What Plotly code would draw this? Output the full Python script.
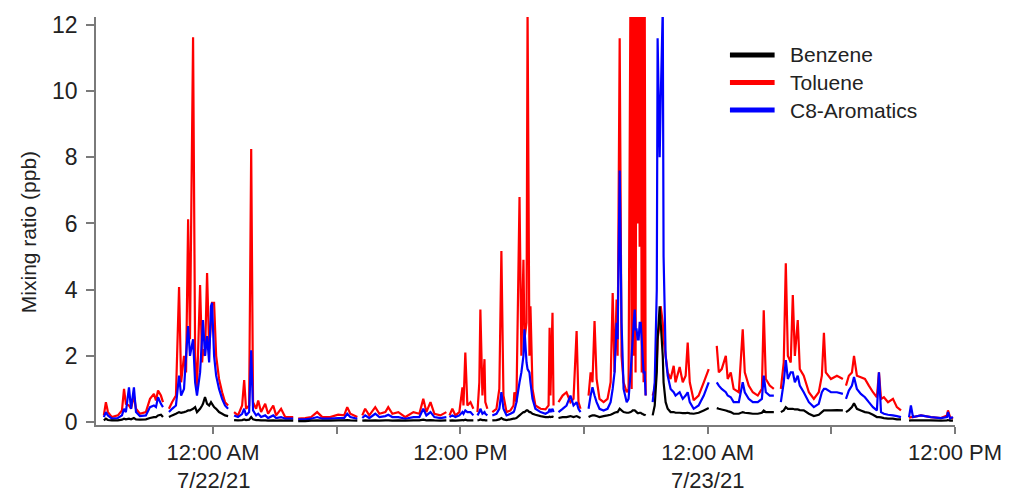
import pandas as pd
import plotly.graph_objects as go

# Sample times in hours after midnight 7/22/21 (shared by all three species).
# Entries whose values are None mark gaps between measurement periods.
hours = [
    -5.30, -5.20, -5.10, -4.91, -4.62, -4.42, -4.32, -4.23, -4.08, -3.98, -3.84, -3.74, -3.55, -3.26, -3.06, -2.87, -2.77, -2.67, -2.53, -2.43, -2.28,
    -2.14, -1.99, -1.80, -1.65, -1.55, -1.41, -1.31, -1.21, -1.12, -0.97, -0.87, -0.78, -0.63, -0.53, -0.49, -0.39, -0.29, -0.19, -0.10, -0.05, 0.05, 0.15, 0.29, 0.44, 0.58, 0.73, 0.87,
    1.02, 1.21, 1.41, 1.51, 1.60, 1.75, 1.85, 1.94, 2.09, 2.19, 2.33, 2.53, 2.67, 2.92, 3.06, 3.30, 3.50, 3.89, 4.01,
    4.13, 4.47, 4.76, 5.05, 5.30, 5.68, 6.07, 6.36, 6.51, 6.66, 7.00, 7.12,
    7.24, 7.38, 7.58, 7.87, 8.07, 8.36, 8.50, 8.70, 8.99, 9.33, 9.72, 10.01, 10.20, 10.35, 10.55, 10.74, 11.03, 11.32, 11.39,
    11.47, 11.61, 11.76, 11.95, 12.10, 12.15, 12.24, 12.34, 12.49, 12.63, 12.73,
    12.83, 12.92, 12.97, 13.07, 13.17, 13.21, 13.31, 13.43,
    13.55, 13.75, 13.89, 13.99, 14.09, 14.24, 14.43, 14.58, 14.62, 14.72, 14.87, 14.96, 15.06, 15.11, 15.21, 15.26, 15.35, 15.40, 15.50, 15.64, 15.89, 16.13, 16.28, 16.33, 16.37, 16.47, 16.52, 16.64,
    16.76, 16.96, 17.15, 17.34, 17.49, 17.64, 17.73, 17.83, 18.02,
    18.22, 18.32, 18.41, 18.51, 18.61, 18.75, 18.95, 19.14, 19.29, 19.39, 19.48, 19.58, 19.63, 19.73, 19.82, 19.92, 20.07, 20.16, 20.26, 20.31, 20.36, 20.41, 20.46, 20.50, 20.55, 20.60, 20.65, 20.70, 20.75, 20.80, 20.84, 20.89, 20.94, 20.99, 21.16,
    21.33, 21.43, 21.53, 21.57, 21.67, 21.72, 21.82, 21.86, 21.96, 22.06, 22.20, 22.35, 22.44, 22.64, 22.79, 22.93, 23.03, 23.13, 23.32, 23.56, 23.81, 24.05, 24.24,
    24.44, 24.54, 24.68, 24.88, 24.97, 25.12, 25.26, 25.51, 25.70, 25.80, 25.99, 26.19, 26.43, 26.63, 26.72, 26.82, 27.01, 27.21, 27.38,
    27.55, 27.69, 27.79, 27.89, 28.03, 28.13, 28.23, 28.37, 28.47, 28.66, 28.91, 29.15, 29.39, 29.54, 29.64, 29.73, 29.98, 30.27, 30.56, 30.63,
    30.71, 30.85, 31.00, 31.10, 31.24, 31.43, 31.63, 31.82, 32.02, 32.21, 32.31, 32.41, 32.55, 32.75, 32.99, 33.18, 33.38, 33.57,
    33.77, 33.86, 33.96, 34.35, 34.83, 35.32, 35.61, 35.66, 35.76, 35.90,
]

toluene = [
    0.20, 0.60, 0.30, 0.15, 0.20, 0.35, 1.00, 0.55, 0.50, 0.40, 0.80, 0.40, 0.25, 0.30, 0.70, 0.85, 0.65, 0.95, 0.80, 0.60, None,
    0.40, 0.60, 0.80, 4.08, 1.20, 2.00, 1.50, 6.13, 2.50, 11.63, 2.00, 1.00, 4.14, 1.80, 2.20, 2.00, 4.50, 2.20, 3.00, 3.60, 3.60, 2.00, 1.30, 0.90, 0.60, 0.50, None,
    0.30, 0.20, 0.50, 1.27, 0.40, 0.50, 8.25, 0.60, 0.40, 0.65, 0.30, 0.55, 0.25, 0.50, 0.20, 0.40, 0.15, 0.15, None,
    0.10, 0.12, 0.15, 0.30, 0.15, 0.15, 0.22, 0.20, 0.45, 0.25, 0.15, None,
    0.20, 0.40, 0.20, 0.45, 0.25, 0.30, 0.45, 0.25, 0.30, 0.15, 0.30, 0.25, 0.70, 0.30, 0.60, 0.25, 0.20, 0.30, None,
    0.20, 0.40, 0.20, 0.30, 1.05, 0.50, 2.10, 0.50, 0.60, 0.40, None,
    0.30, 1.20, 3.40, 0.80, 1.90, 0.60, 0.40, None,
    0.30, 0.40, 1.00, 5.17, 0.80, 0.30, 0.35, 0.50, 0.90, 0.60, 6.80, 2.00, 4.90, 2.50, 3.00, 12.50, 2.00, 3.50, 1.00, 0.50, 0.40, 0.38, 0.50, 2.85, 0.80, 3.30, 0.50, None,
    0.60, 0.80, 0.90, 0.60, 0.70, 2.75, 0.60, 0.40, None,
    0.80, 1.50, 1.20, 3.05, 1.30, 0.70, 0.60, 0.70, 1.20, 3.90, 1.50, 3.70, 2.00, 11.60, 2.00, 1.20, 0.90, 1.00, 14.0, 1.00, 14.0, 2.00, 14.0, 1.50, 13.0, 6.00, 14.0, 5.30, 14.0, 1.50, 14.0, 1.20, 14.0, 0.80, None,
    0.80, 1.00, 1.80, 2.50, 3.00, 3.50, 3.00, 2.50, 2.00, 1.50, 1.30, 1.70, 1.20, 1.66, 1.20, 1.40, 2.40, 1.20, 0.66, 0.80, 1.20, 1.60, None,
    2.30, 1.50, 1.60, 2.00, 1.30, 1.50, 1.00, 0.90, 2.80, 1.50, 1.10, 0.90, 0.80, 1.00, 3.38, 1.30, 1.10, 1.00, None,
    1.00, 1.80, 4.80, 2.00, 1.80, 3.84, 2.00, 3.08, 1.60, 1.40, 0.90, 0.70, 0.90, 1.40, 2.70, 1.50, 1.30, 1.40, 1.30, None,
    1.10, 1.40, 1.50, 2.00, 1.40, 1.35, 1.30, 1.10, 0.90, 0.75, 1.50, 0.70, 0.75, 0.60, 0.70, 0.45, 0.35, None,
    0.12, 0.15, 0.15, 0.20, 0.15, 0.12, 0.20, 0.35, 0.15, 0.10,
]

c8_aromatics = [
    0.15, 0.30, 0.20, 0.10, 0.12, 0.20, 0.40, 0.30, 1.05, 0.40, 1.05, 0.30, 0.18, 0.20, 0.45, 0.50, 0.45, 0.75, 0.55, 0.45, None,
    0.30, 0.40, 0.50, 1.40, 0.80, 1.00, 2.00, 2.90, 2.00, 2.50, 1.20, 0.80, 1.50, 2.60, 3.08, 2.00, 2.60, 1.80, 3.50, 3.60, 2.00, 1.40, 1.00, 0.70, 0.50, 0.40, None,
    0.20, 0.15, 0.25, 0.40, 0.20, 0.30, 2.17, 0.35, 0.20, 0.25, 0.15, 0.20, 0.12, 0.20, 0.12, 0.15, 0.10, 0.10, None,
    0.08, 0.08, 0.10, 0.15, 0.10, 0.10, 0.12, 0.12, 0.25, 0.15, 0.10, None,
    0.12, 0.20, 0.12, 0.25, 0.15, 0.18, 0.22, 0.15, 0.15, 0.10, 0.15, 0.15, 0.40, 0.20, 0.30, 0.15, 0.12, 0.15, None,
    0.15, 0.20, 0.15, 0.20, 0.30, 0.25, 0.35, 0.30, 0.30, 0.20, None,
    0.20, 0.30, 0.40, 0.25, 0.30, 0.25, 0.20, None,
    0.20, 0.25, 0.40, 0.90, 0.40, 0.20, 0.25, 0.30, 0.35, 0.60, 1.20, 1.50, 2.00, 2.80, 1.80, 1.60, 1.50, 1.20, 0.70, 0.40, 0.30, 0.25, 0.30, 0.40, 0.30, 0.40, 0.30, None,
    0.30, 0.40, 0.50, 0.80, 0.50, 0.60, 0.40, 0.30, None,
    0.40, 0.80, 1.05, 0.80, 0.60, 0.40, 0.35, 0.40, 0.60, 1.00, 1.50, 3.00, 2.50, 7.60, 3.00, 1.00, 0.60, 0.70, 1.50, 2.00, 2.50, 3.00, 3.40, 2.80, 2.80, 2.50, 2.50, 3.00, 3.00, 2.50, 2.00, 1.50, 1.50, 0.80, None,
    0.60, 1.20, 4.00, 11.60, 8.00, 9.70, 12.50, 5.00, 2.00, 1.40, 1.00, 0.90, 0.80, 0.90, 0.70, 0.80, 0.90, 0.60, 0.40, 0.50, 0.80, 1.20, None,
    1.20, 1.10, 1.00, 0.90, 0.80, 0.75, 0.60, 0.60, 1.20, 0.90, 0.70, 0.60, 0.60, 0.70, 1.40, 0.90, 0.80, 0.80, None,
    0.60, 1.20, 1.87, 1.30, 1.50, 1.50, 1.20, 1.40, 1.10, 0.90, 0.60, 0.45, 0.55, 0.90, 1.00, 1.00, 0.90, 0.90, 0.85, None,
    0.70, 0.95, 1.10, 1.36, 1.00, 0.85, 0.75, 0.60, 0.45, 0.35, 1.50, 0.30, 0.25, 0.22, 0.20, 0.18, 0.15, None,
    0.15, 0.50, 0.15, 0.20, 0.15, 0.12, 0.15, 0.30, 0.10, 0.15,
]

benzene = [
    0.05, 0.10, 0.06, 0.05, 0.05, 0.07, 0.10, 0.08, 0.10, 0.08, 0.12, 0.08, 0.07, 0.08, 0.12, 0.15, 0.15, 0.20, 0.22, 0.15, None,
    0.15, 0.20, 0.25, 0.30, 0.28, 0.30, 0.32, 0.35, 0.35, 0.40, 0.45, 0.30, 0.40, 0.50, 0.55, 0.75, 0.55, 0.50, 0.60, 0.55, 0.45, 0.40, 0.30, 0.25, 0.20, 0.18, None,
    0.06, 0.05, 0.06, 0.08, 0.06, 0.07, 0.15, 0.08, 0.06, 0.06, 0.05, 0.05, 0.04, 0.05, 0.04, 0.05, 0.04, 0.04, None,
    0.03, 0.03, 0.04, 0.05, 0.04, 0.04, 0.05, 0.05, 0.06, 0.05, 0.04, None,
    0.04, 0.05, 0.04, 0.05, 0.04, 0.05, 0.05, 0.04, 0.05, 0.04, 0.05, 0.05, 0.07, 0.05, 0.06, 0.05, 0.04, 0.05, None,
    0.04, 0.05, 0.04, 0.05, 0.06, 0.05, 0.07, 0.05, 0.05, 0.05, None,
    0.05, 0.06, 0.08, 0.06, 0.06, 0.05, 0.05, None,
    0.05, 0.06, 0.08, 0.12, 0.08, 0.06, 0.08, 0.10, 0.10, 0.12, 0.20, 0.25, 0.30, 0.30, 0.35, 0.35, 0.30, 0.30, 0.25, 0.22, 0.18, 0.15, 0.15, 0.16, 0.15, 0.16, 0.15, None,
    0.12, 0.15, 0.15, 0.18, 0.15, 0.18, 0.15, 0.12, None,
    0.15, 0.18, 0.20, 0.20, 0.18, 0.15, 0.18, 0.20, 0.22, 0.25, 0.28, 0.30, 0.30, 0.40, 0.35, 0.30, 0.28, 0.28, 0.30, 0.32, 0.35, 0.35, 0.35, 0.33, 0.30, 0.27, 0.27, 0.28, 0.28, 0.25, 0.25, 0.22, 0.22, 0.20, None,
    0.20, 0.50, 1.50, 2.50, 3.50, 3.00, 2.00, 1.20, 0.60, 0.40, 0.30, 0.30, 0.28, 0.28, 0.27, 0.27, 0.28, 0.26, 0.25, 0.28, 0.35, 0.42, None,
    0.42, 0.40, 0.38, 0.35, 0.33, 0.30, 0.25, 0.25, 0.30, 0.28, 0.27, 0.25, 0.25, 0.28, 0.35, 0.30, 0.30, 0.30, None,
    0.30, 0.35, 0.45, 0.40, 0.40, 0.40, 0.38, 0.38, 0.36, 0.35, 0.25, 0.18, 0.22, 0.30, 0.35, 0.35, 0.35, 0.36, 0.35, None,
    0.30, 0.36, 0.45, 0.57, 0.40, 0.35, 0.30, 0.28, 0.22, 0.15, 0.15, 0.14, 0.12, 0.10, 0.10, 0.08, 0.08, None,
    0.04, 0.05, 0.05, 0.05, 0.05, 0.04, 0.05, 0.06, 0.04, 0.04,
]

assert len(hours) == len(toluene) == len(c8_aromatics) == len(benzene)

# Axis ticks (hours after midnight 7/22/21) and their labels
tick_hours = [0, 6, 12, 18, 24, 30, 36]
tick_labels = ["12:00 AM", "", "12:00 PM", "", "12:00 AM", "", "12:00 PM"]
date_hours = [0, 24]
date_labels = ["7/22/21", "7/23/21"]
y_ticks = [0, 2, 4, 6, 8, 10, 12]

midnight = pd.Timestamp("2021-07-22 00:00")


def to_time(h):
    return midnight + pd.to_timedelta(h, unit="h")


times = [to_time(h) for h in hours]

FONT = "Arial, Liberation Sans, Helvetica, sans-serif"
AXIS_GRAY = "#7a7a7a"
TEXT = "#222222"

series = [
    ("Benzene", benzene, "#000000"),
    ("Toluene", toluene, "#ff0000"),
    ("C8-Aromatics", c8_aromatics, "#0000ff"),
]

fig = go.Figure()

# Draw toluene first, then C8-aromatics, then benzene on top
for name, values, color in [series[1], series[2], series[0]]:
    fig.add_trace(go.Scatter(
        x=times, y=values, mode="lines", name=name,
        line=dict(color=color, width=2.2, simplify=False),
        connectgaps=False, showlegend=False, hoverinfo="x+y+name",
    ))

# Key in the upper right: a heavy line sample followed by the species name
legend_shapes = []
notes = []
for i, (name, _, color) in enumerate(series):
    row_y = 0.907 - i * 0.0675
    legend_shapes.append(dict(
        type="line", xref="paper", yref="paper",
        x0=0.738, x1=0.790, y0=row_y, y1=row_y,
        line=dict(color=color, width=5),
    ))
    notes.append(dict(
        xref="paper", yref="paper", x=0.806, y=row_y,
        xanchor="left", yanchor="middle", showarrow=False,
        text=name, font=dict(family=FONT, size=21, color=TEXT),
    ))

# Date line under each midnight tick label
for h, label in zip(date_hours, date_labels):
    notes.append(dict(
        xref="x", yref="paper", x=to_time(h), y=-0.1695,
        xanchor="center", yanchor="bottom", showarrow=False, borderpad=0,
        text=label, font=dict(family=FONT, size=22, color=TEXT),
    ))

# Vertical axis title
notes.append(dict(
    xref="paper", yref="paper", x=-0.079, y=0.473,
    xanchor="center", yanchor="middle", showarrow=False, textangle=-90,
    text="Mixing ratio (ppb)", font=dict(family=FONT, size=21, color=TEXT),
))

fig.update_layout(
    width=1011, height=494,
    margin=dict(l=96, r=56, t=17, b=69),
    paper_bgcolor="white", plot_bgcolor="white",
    font=dict(family=FONT, color=TEXT),
    showlegend=False,
    shapes=legend_shapes,
    annotations=notes,
    xaxis=dict(
        type="date", automargin=False,
        range=[to_time(-5.68), to_time(36.0)],
        tickmode="array",
        tickvals=[to_time(h) for h in tick_hours],
        ticktext=tick_labels,
        ticks="outside", ticklen=7, tickwidth=1.5, tickcolor=AXIS_GRAY,
        ticklabelstandoff=0,
        showline=True, linecolor=AXIS_GRAY, linewidth=1.5,
        showgrid=False, zeroline=False,
        tickfont=dict(family=FONT, size=22, color=TEXT),
    ),
    yaxis=dict(
        automargin=False,
        range=[-0.09, 12.24],
        tickmode="array", tickvals=y_ticks,
        ticks="outside", ticklen=8, tickwidth=1.5, tickcolor=AXIS_GRAY,
        ticklabelstandoff=4,
        showline=True, linecolor=AXIS_GRAY, linewidth=1.5,
        showgrid=False, zeroline=False,
        tickfont=dict(family=FONT, size=23, color=TEXT),
    ),
)

fig.write_html("out.html")
